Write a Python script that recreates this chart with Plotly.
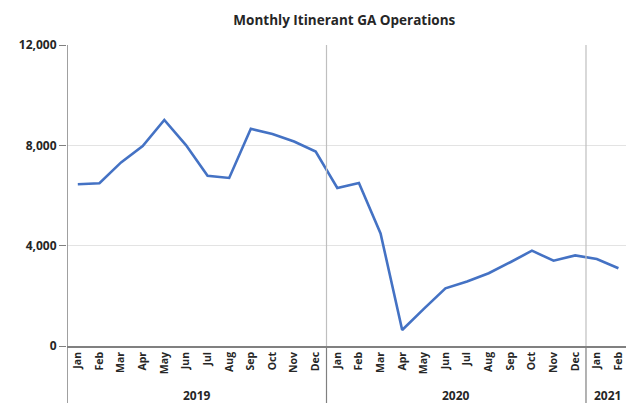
import plotly.graph_objects as go

# Monthly itinerant GA operations, Jan 2019 - Feb 2021
months = ["Jan", "Feb", "Mar", "Apr", "May", "Jun", "Jul", "Aug", "Sep", "Oct", "Nov", "Dec",
          "Jan", "Feb", "Mar", "Apr", "May", "Jun", "Jul", "Aug", "Sep", "Oct", "Nov", "Dec",
          "Jan", "Feb"]
years = ["2019"] * 12 + ["2020"] * 12 + ["2021"] * 2
operations = [6450, 6490, 7320, 7970, 9010, 8010, 6790, 6700, 8660, 8450, 8150, 7750,
              6300, 6500, 4490, 640, 1480, 2300, 2570, 2900, 3340, 3800, 3400, 3610,
              3470, 3100]
y_ticks = [0, 4000, 8000, 12000]

x = list(range(len(months)))

fig = go.Figure()
fig.add_trace(go.Scatter(x=x, y=operations, mode="lines",
                         line=dict(color="#4472C4", width=2.6)))

# year groups: label centred on each group, divider at each boundary
groups = []
for i, yr in enumerate(years):
    if not groups or groups[-1][0] != yr:
        groups.append([yr, i, i])
    else:
        groups[-1][2] = i

for yr, first, last in groups:
    fig.add_annotation(x=(first + last) / 2, y=-0.163, xref="x", yref="paper",
                       yanchor="middle", text="<b>%s</b>" % yr, showarrow=False,
                       font=dict(size=12, color="#262626"))
for yr, first, last in groups[1:]:
    fig.add_shape(type="line", x0=first - 0.5, x1=first - 0.5, xref="x",
                  y0=0, y1=1, yref="paper", line=dict(color="#bfbfbf", width=1.2))
    fig.add_shape(type="line", x0=first - 0.5, x1=first - 0.5, xref="x",
                  y0=-0.19, y1=0, yref="paper", line=dict(color="#808080", width=1.2))
fig.add_shape(type="line", x0=-0.5, x1=-0.5, xref="x", y0=-0.19, y1=1, yref="paper",
              line=dict(color="#808080", width=1.5))

fig.update_layout(
    width=626, height=403,
    margin=dict(l=67, r=0, t=45, b=57),
    paper_bgcolor="white", plot_bgcolor="white",
    showlegend=False,
    font=dict(family="Open Sans", color="#262626"),
    title=dict(text="<b>Monthly Itinerant GA Operations</b>", x=0.55, xanchor="center",
               y=0.95, yanchor="middle", font=dict(size=13.5, color="#262626")),
    xaxis=dict(range=[-0.5, 25.35], tickvals=x, ticktext=["<b>%s</b>" % m for m in months],
               tickangle=-90, tickfont=dict(size=10.5, color="#262626"),
               ticklabeloverflow="allow",
               showgrid=False, zeroline=False, showline=True, linecolor="#808080",
               linewidth=1.5, ticks="", automargin=False),
    yaxis=dict(range=[0, 12000], tickvals=y_ticks,
               ticktext=["<b>{:,}</b>".format(v) for v in y_ticks],
               tickfont=dict(size=12, color="#262626"),
               showgrid=True, gridcolor="#e3e3e3", gridwidth=1, zeroline=False,
               showline=False, ticks="outside", ticklen=7, tickcolor="#808080",
               automargin=False),
)

# drop the page's default body margin so the figure fills the window exactly
fig.write_html("out.html", config={"displayModeBar": False},
               post_script="document.body.style.margin='0';document.body.style.overflow='hidden';")
